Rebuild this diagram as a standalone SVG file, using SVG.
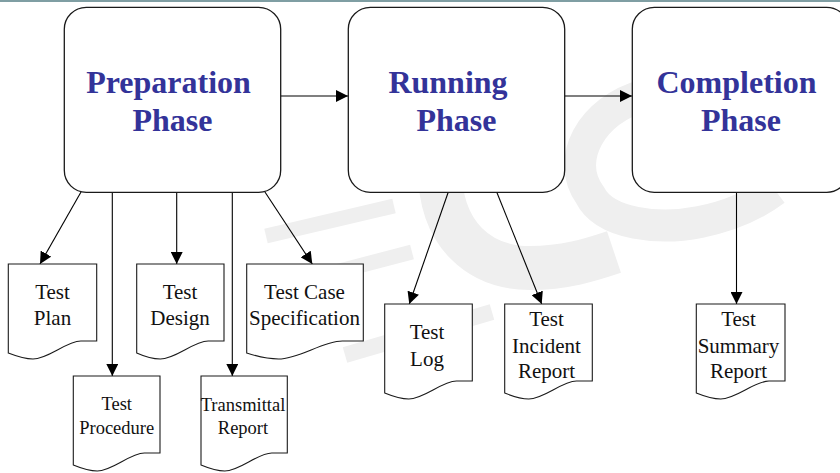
<svg xmlns="http://www.w3.org/2000/svg" width="840" height="473" viewBox="0 0 840 473">
<style>
.phase{fill:#fff;stroke:#1a1a1a;stroke-width:1.3}
.ptxt{font-family:"Liberation Serif","Times New Roman",serif;font-weight:bold;font-size:32px;fill:#333399;text-anchor:middle}
.doc{fill:#fff;stroke:#1a1a1a;stroke-width:1.1}
.dtxt{font-family:"Liberation Serif","Times New Roman",serif;font-size:21px;fill:#111;text-anchor:middle}
.stxt{font-family:"Liberation Serif","Times New Roman",serif;font-size:18.5px;fill:#111;text-anchor:middle}
.conn line{stroke:#000;stroke-width:1.1;marker-end:url(#ah)}
.wm{fill:none;stroke:#efefef;stroke-linecap:butt}
</style>
<defs>
<marker id="ah" markerUnits="userSpaceOnUse" markerWidth="12" markerHeight="12" viewBox="0 0 12 12" refX="12" refY="6" orient="auto">
<path d="M0,0 L12,6 L0,12 z" fill="#000"/>
</marker>
</defs>
<rect x="0" y="0" width="840" height="473" fill="#fff"/>
<rect x="0" y="0" width="840" height="2" fill="#7f9ea3"/>
<g id="watermark">
<path class="wm" stroke-width="44" d="M 440,170 C 440,235 480,268 530,268 C 565,268 590,260 614,252"/>
<path class="wm" stroke-width="32" d="M 645,95 C 590,110 565,160 590,195 C 605,225 660,230 700,222 C 730,216 755,205 775,190"/>
<path class="wm" stroke-width="15" d="M 266,236 L 394,206"/>
<path class="wm" stroke-width="15" d="M 305,280 L 412,252"/>
<path class="wm" stroke-width="16" d="M 345,355 L 492,312"/>
</g>
<g class="conn" id="connectors">
<line x1="281" y1="96" x2="348" y2="96"/>
<line x1="565" y1="96" x2="632" y2="96"/>
<line x1="81" y1="192" x2="40" y2="264"/>
<line x1="112.3" y1="192" x2="112.3" y2="376"/>
<line x1="176.7" y1="192" x2="176.7" y2="264"/>
<line x1="232.3" y1="192" x2="232.3" y2="376"/>
<line x1="264.3" y1="191" x2="312.3" y2="264"/>
<line x1="448.3" y1="192" x2="409.3" y2="304"/>
<line x1="496.7" y1="192" x2="541.7" y2="304"/>
<line x1="736.5" y1="192" x2="736.5" y2="304"/>
</g>
<g id="preparation">
<rect class="phase" x="64.3" y="7.3" width="216.4" height="185" rx="22"/>
<text class="ptxt" x="168.5" y="93">Preparation</text>
<text class="ptxt" x="172.5" y="131">Phase</text>
</g>
<g id="running">
<rect class="phase" x="348.3" y="7.3" width="216.4" height="185" rx="22"/>
<text class="ptxt" x="448" y="93">Running</text>
<text class="ptxt" x="456.5" y="131">Phase</text>
</g>
<g id="completion">
<rect class="phase" x="632.3" y="7.3" width="216.4" height="185" rx="22"/>
<text class="ptxt" x="736.5" y="93">Completion</text>
<text class="ptxt" x="741" y="131">Phase</text>
</g>
<g id="test-plan">
<path class="doc" d="M8.3,264 H96.7 V341 L80.9,341 C65.9,341.3 48.3,359 33,359 C24,359 16,356 8.3,353 Z"/>
<text class="dtxt" x="52.5" y="299">Test</text>
<text class="dtxt" x="52.5" y="325">Plan</text>
</g>
<g id="test-design">
<path class="doc" d="M136.7,264 H224 V341 L208.2,341 C193.2,341.3 175.6,359 160.3,359 C151.3,359 143.4,356 136.7,353 Z"/>
<text class="dtxt" x="180" y="299">Test</text>
<text class="dtxt" x="180" y="325">Design</text>
</g>
<g id="test-case-specification">
<path class="doc" d="M246.7,264 H363.3 V341 L342.3,341 C322.3,341.3 299,359 278.5,359 C266.5,359 256,356 246.7,353 Z"/>
<text class="dtxt" x="304.5" y="299">Test Case</text>
<text class="dtxt" x="304.5" y="325">Specification</text>
</g>
<g id="test-procedure">
<path class="doc" d="M73.3,376 H160 V453 L144.4,453 C129.6,453.3 112.3,471 97.3,471 C88.4,471 80.6,468 73.3,465 Z"/>
<text class="stxt" x="116.7" y="410">Test</text>
<text class="stxt" x="116.7" y="434">Procedure</text>
</g>
<g id="transmittal-report">
<path class="doc" d="M201,376 H287.3 V453 L271.8,453 C257,453.3 239.8,471 224.8,471 C216,471 208.2,468 201,465 Z"/>
<text class="stxt" x="243" y="410.5">Transmittal</text>
<text class="stxt" x="243" y="434">Report</text>
</g>
<g id="test-log">
<path class="doc" d="M384.7,304 H472.3 V381 L456.5,381 C441.5,381.3 424,399 408.8,399 C399.8,399 392,396 384.7,393 Z"/>
<text class="dtxt" x="427" y="339">Test</text>
<text class="dtxt" x="427" y="366">Log</text>
</g>
<g id="test-incident-report">
<path class="doc" d="M504.7,304 H592.3 V381 L576.5,381 C561.5,381.3 544,399 528.8,399 C519.8,399 512,396 504.7,393 Z"/>
<text class="dtxt" x="546.5" y="326">Test</text>
<text class="dtxt" x="546.5" y="352.5">Incident</text>
<text class="dtxt" x="546.5" y="378">Report</text>
</g>
<g id="test-summary-report">
<path class="doc" d="M696.3,304 H785 V381 L769,381 C753.8,381.3 736.1,399 720.7,399 C711.6,399 703.7,396 696.3,393 Z"/>
<text class="dtxt" x="738.5" y="326">Test</text>
<text class="dtxt" x="738.5" y="352.5">Summary</text>
<text class="dtxt" x="738.5" y="378">Report</text>
</g>
</svg>
